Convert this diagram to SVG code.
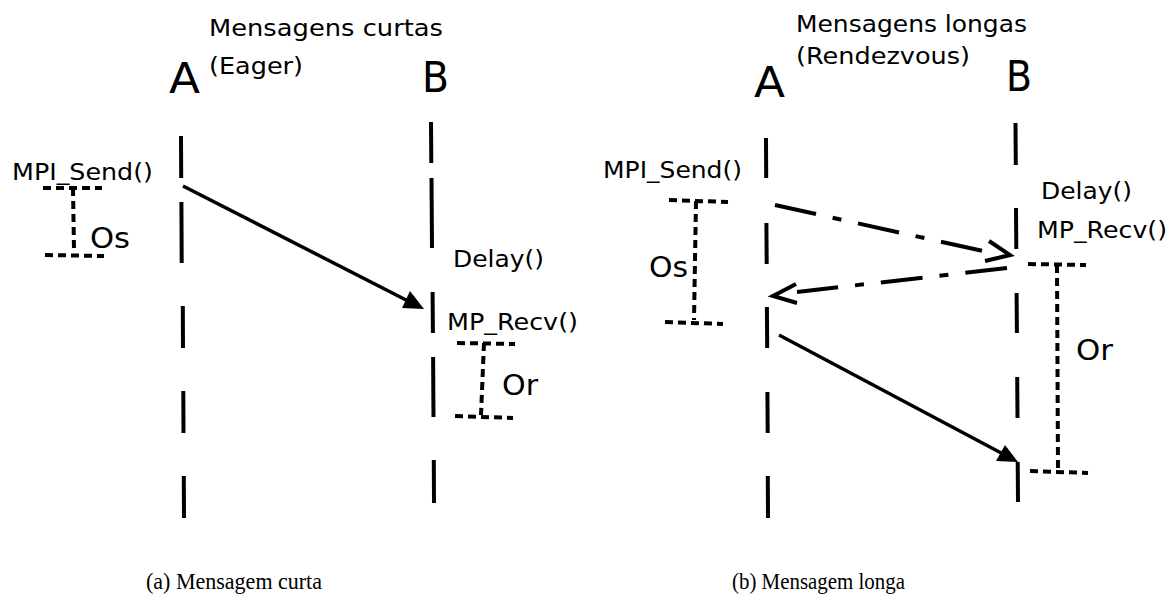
<svg xmlns="http://www.w3.org/2000/svg" width="1168" height="606" viewBox="0 0 1168 606">
  <defs>
    <style>
      .lbl { font-family: "DejaVu Sans", "Liberation Sans", sans-serif; font-size: 23px; fill: #000; }
      .big { font-family: "DejaVu Sans", "Liberation Sans", sans-serif; font-size: 42px; fill: #000; }
      .mid { font-family: "DejaVu Sans", "Liberation Sans", sans-serif; font-size: 29px; fill: #000; }
      .cap { font-family: "Liberation Serif", "DejaVu Serif", serif; font-size: 23px; fill: #000; }
      .life { stroke: #000; stroke-width: 4; fill: none; }
      .msg { stroke: #000; stroke-width: 3.5; fill: none; }
      .ctrl { stroke: #000; stroke-width: 4; fill: none; stroke-dasharray: 42 17 9 17; }
      .head { stroke: #000; stroke-width: 4; fill: none; stroke-linejoin: miter; }
      .tip { fill: #000; stroke: none; }
      .span { stroke: #000; stroke-width: 4; fill: none; stroke-dasharray: 8 5; }
    </style>
  </defs>
  <rect width="1168" height="606" fill="#fff"/>

  <!-- (a) short messages: eager protocol -->
  <g id="title-a">
    <text class="lbl" x="209" y="36" textLength="234" lengthAdjust="spacingAndGlyphs">Mensagens curtas</text>
    <text class="lbl" x="209" y="74" textLength="94" lengthAdjust="spacingAndGlyphs">(Eager)</text>
  </g>
  <g id="proc-a-left">
    <text class="big" x="169" y="93" textLength="31" lengthAdjust="spacingAndGlyphs">A</text>
    <path class="life" d="M181,136 L181.2,178 M181.4,202 L181.7,263 M182.8,306 L183,348 M183.3,391 L183.5,433 M183.8,476 L184,518"/>
  </g>
  <g id="proc-b-left">
    <text class="big" x="422" y="92" textLength="27" lengthAdjust="spacingAndGlyphs">B</text>
    <path class="life" d="M431,122 L431.3,163 M431.5,178 L432,248 M432.6,292 L432.9,333 M433.1,357 L433.5,417 M433.8,460 L434,503"/>
  </g>
  <g id="send-a">
    <text class="lbl" x="12" y="180" textLength="141" lengthAdjust="spacingAndGlyphs">MPI_Send()</text>
    <path class="span" d="M43,188 L102,188 M73,188 L74,250 M45,255 L104,256"/>
    <text class="mid" x="90" y="248" textLength="40" lengthAdjust="spacingAndGlyphs">Os</text>
  </g>
  <g id="recv-a">
    <text class="lbl" x="453" y="267" textLength="91" lengthAdjust="spacingAndGlyphs">Delay()</text>
    <text class="lbl" x="447" y="330" textLength="131" lengthAdjust="spacingAndGlyphs">MP_Recv()</text>
    <path class="span" d="M457,343 L515,344 M484,343 L481,415 M455,416 L513,418"/>
    <text class="mid" x="502" y="395" textLength="36" lengthAdjust="spacingAndGlyphs">Or</text>
  </g>

  <!-- (b) long messages: rendezvous protocol -->
  <g id="title-b">
    <text class="lbl" x="796" y="32" textLength="231" lengthAdjust="spacingAndGlyphs">Mensagens longas</text>
    <text class="lbl" x="796" y="64" textLength="174" lengthAdjust="spacingAndGlyphs">(Rendezvous)</text>
  </g>
  <g id="proc-a-right">
    <text class="big" x="754" y="97" textLength="31" lengthAdjust="spacingAndGlyphs">A</text>
    <path class="life" d="M766,138 L766.2,178 M766.4,223 L766.7,264 M766.9,307 L767.2,348 M767.4,392 L767.7,433 M767.8,476 L768,518"/>
  </g>
  <g id="proc-b-right">
    <text class="big" x="1006" y="91" textLength="26" lengthAdjust="spacingAndGlyphs">B</text>
    <path class="life" d="M1015.5,123 L1015.8,165 M1016,208 L1016.3,249 M1016.6,293 L1016.9,333 M1017.2,377 L1017.5,418 M1017.7,462 L1018,502"/>
  </g>
  <g id="send-b">
    <text class="lbl" x="603" y="178" textLength="139" lengthAdjust="spacingAndGlyphs">MPI_Send()</text>
    <path class="span" d="M669,200 L728,202 M696,201 L694,320 M665,322 L723,324"/>
    <text class="mid" x="649" y="277" textLength="39" lengthAdjust="spacingAndGlyphs">Os</text>
  </g>
  <g id="recv-b">
    <text class="lbl" x="1041" y="199" textLength="91" lengthAdjust="spacingAndGlyphs">Delay()</text>
    <text class="lbl" x="1037" y="238" textLength="130" lengthAdjust="spacingAndGlyphs">MP_Recv()</text>
    <path class="span" d="M1028,264 L1086,265 M1057,265 L1058,470 M1030,471 L1088,473"/>
    <text class="mid" x="1076" y="360" textLength="37" lengthAdjust="spacingAndGlyphs">Or</text>
  </g>

  <!-- messages between processes -->
  <g id="connectors">
    <!-- eager data transfer -->
    <line class="msg" x1="183" y1="186" x2="410" y2="302"/>
    <polygon class="tip" points="424,309 410,291 402,308"/>
    <!-- rendezvous request -->
    <line class="ctrl" x1="775" y1="205" x2="983" y2="251"/>
    <polyline class="head" points="989,241 1010,255 985,261"/>
    <!-- rendezvous acknowledgement -->
    <line class="ctrl" x1="1007" y1="268" x2="797" y2="292"/>
    <polyline class="head" points="796,284 773,296 797,303"/>
    <!-- rendezvous data transfer -->
    <line class="msg" x1="779" y1="335" x2="1005" y2="455"/>
    <polygon class="tip" points="1018,462 1005,445 996,461"/>
  </g>

  <g id="captions">
    <text class="cap" x="146" y="589" textLength="176" lengthAdjust="spacingAndGlyphs">(a) Mensagem curta</text>
    <text class="cap" x="732" y="589" textLength="173" lengthAdjust="spacingAndGlyphs">(b) Mensagem longa</text>
  </g>
</svg>
